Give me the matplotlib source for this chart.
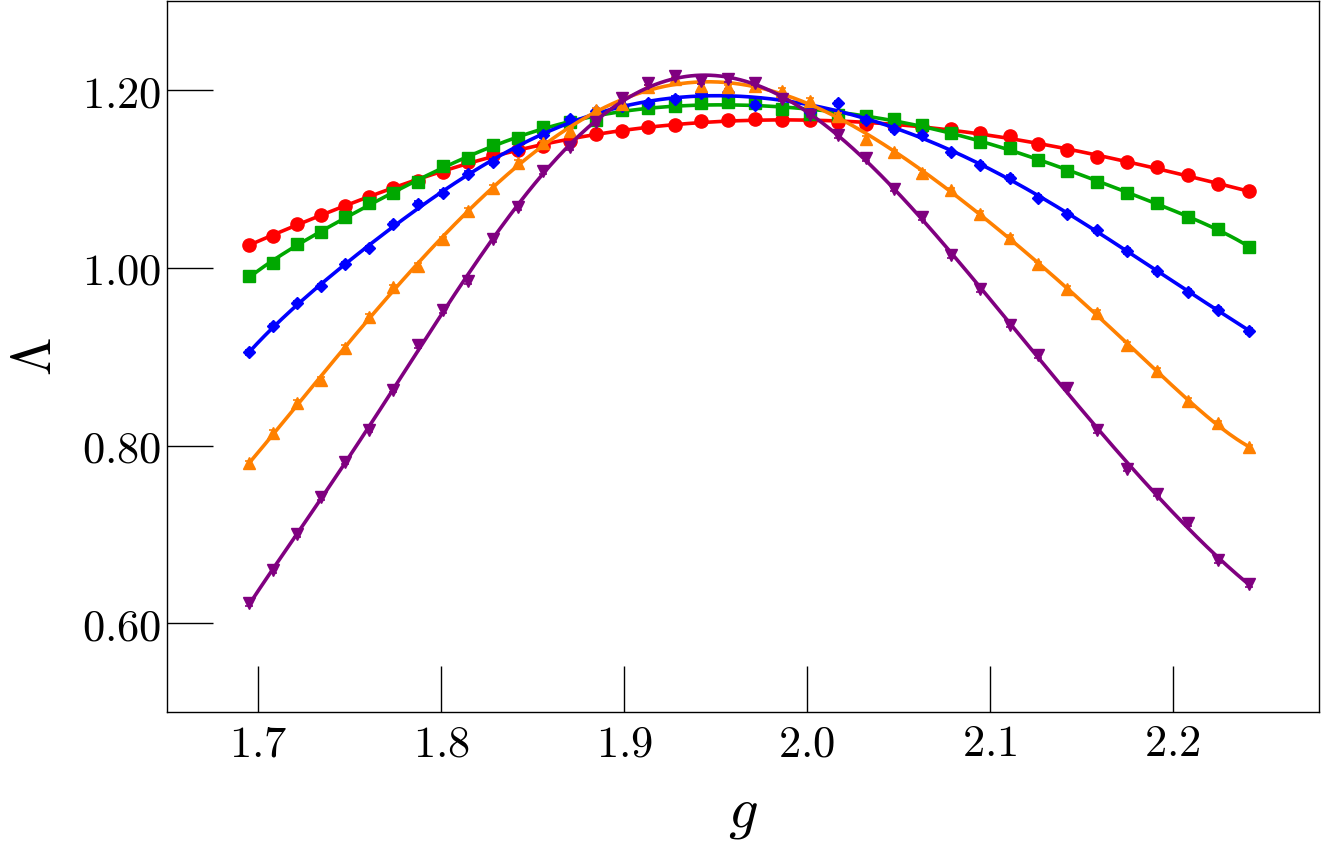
import numpy as np
import matplotlib
matplotlib.use("Agg")
import matplotlib.pyplot as plt
from matplotlib.ticker import FormatStrFormatter

plt.rcParams["mathtext.fontset"] = "cm"
plt.rcParams["font.family"] = "serif"

# coupling values
g = [1.6951, 1.7082, 1.7213, 1.7341, 1.7475, 1.7607, 1.7738, 1.7871, 1.8008,
     1.8144, 1.8281, 1.8419, 1.8557, 1.8704, 1.8849, 1.8989, 1.9131, 1.9277,
     1.9423, 1.9568, 1.9718, 1.9866, 2.0019, 2.0169, 2.0325, 2.0475, 2.0630,
     2.0789, 2.0948, 2.1108, 2.1266, 2.1425, 2.1585, 2.1751, 2.1916, 2.2082,
     2.2246, 2.2419]

lam_red = [1.026, 1.036, 1.049, 1.059, 1.070, 1.080, 1.090, 1.098, 1.108, 1.119,
           1.127, 1.132, 1.137, 1.143, 1.151, 1.154, 1.158, 1.160, 1.165, 1.166,
           1.167, 1.166, 1.166, 1.164, 1.162, 1.160, 1.158, 1.156, 1.152, 1.148,
           1.139, 1.132, 1.125, 1.119, 1.113, 1.104, 1.094, 1.086]
lam_green = [0.991, 1.005, 1.027, 1.040, 1.057, 1.073, 1.084, 1.096, 1.114, 1.124,
             1.138, 1.146, 1.158, 1.164, 1.166, 1.177, 1.180, 1.182, 1.185, 1.186,
             1.185, 1.179, 1.173, 1.172, 1.171, 1.167, 1.161, 1.152, 1.141, 1.135,
             1.121, 1.109, 1.097, 1.084, 1.073, 1.057, 1.044, 1.023]
lam_blue = [0.905, 0.934, 0.960, 0.979, 1.004, 1.022, 1.049, 1.072, 1.084, 1.106,
            1.119, 1.132, 1.149, 1.167, 1.176, 1.182, 1.185, 1.190, 1.196, 1.198,
            1.183, 1.192, 1.175, 1.185, 1.166, 1.156, 1.149, 1.130, 1.116, 1.101,
            1.079, 1.061, 1.042, 1.019, 0.996, 0.973, 0.953, 0.929]
lam_orange = [0.780, 0.814, 0.848, 0.874, 0.910, 0.945, 0.978, 1.002, 1.032, 1.064,
              1.090, 1.118, 1.140, 1.154, 1.177, 1.184, 1.203, 1.212, 1.204, 1.203,
              1.204, 1.199, 1.188, 1.171, 1.145, 1.130, 1.107, 1.087, 1.061, 1.034,
              1.004, 0.976, 0.949, 0.913, 0.884, 0.850, 0.825, 0.798]
lam_purple = [0.623, 0.660, 0.700, 0.742, 0.782, 0.818, 0.863, 0.913, 0.952, 0.985,
              1.032, 1.068, 1.109, 1.136, 1.164, 1.191, 1.208, 1.216, 1.210, 1.212,
              1.208, 1.190, 1.172, 1.149, 1.123, 1.089, 1.057, 1.014, 0.976, 0.936,
              0.902, 0.865, 0.817, 0.774, 0.746, 0.713, 0.671, 0.644]
lam_err = 0.003

series = [
    (lam_red, "#ff0000", "o", 9.5),
    (lam_green, "#00a800", "s", 9.0),
    (lam_blue, "#0000ff", "D", 6.0),
    (lam_orange, "#ff8000", "^", 8.5),
    (lam_purple, "#800080", "v", 9.0),
]

fig = plt.figure(figsize=(13.21, 8.59), dpi=100)
ax = fig.add_axes([0.1264, 0.1708, 0.872, 0.828])

x = np.array(g)
xs = np.linspace(x[0], x[-1], 400)
for k, (y, col, mk, ms) in enumerate(series):
    y = np.array(y)
    # smooth fit through the points
    coef = np.polyfit(x - 1.95, y, 8)
    ax.plot(xs, np.polyval(coef, xs - 1.95), color=col, lw=2.6, zorder=2 + k)
    ax.errorbar(x, y, yerr=lam_err, fmt=mk, color=col, ms=ms, mec=col,
                elinewidth=1.2, capsize=3, capthick=1.2, zorder=2 + k)

ax.set_xlim(1.65, 2.28)
ax.set_ylim(0.5, 1.3)
ax.set_xticks([1.7, 1.8, 1.9, 2.0, 2.1, 2.2])
ax.set_yticks([0.6, 0.8, 1.0, 1.2])
ax.xaxis.set_major_formatter(FormatStrFormatter(r"$%.1f$"))
ax.yaxis.set_major_formatter(FormatStrFormatter(r"$%.2f$"))
ax.tick_params(direction="in", length=33, width=1.0, labelsize=32,
               top=False, right=False)
ax.tick_params(axis="x", pad=7)
ax.tick_params(axis="y", pad=4)
for s in ax.spines.values():
    s.set_linewidth(1.0)

ax.set_xlabel(r"$g$", fontsize=42, labelpad=14)
ax.set_ylabel(r"$\Lambda$", fontsize=40, labelpad=14)

fig.savefig("out.png", dpi=100)
